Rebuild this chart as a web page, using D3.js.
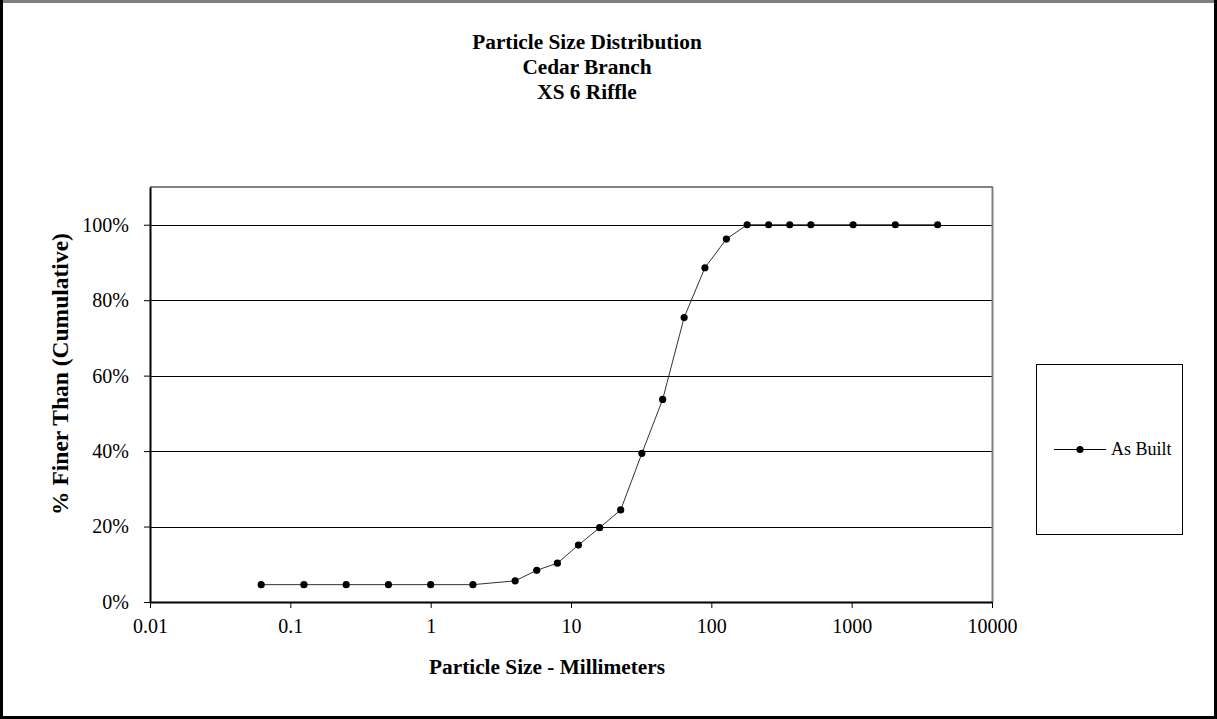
<!DOCTYPE html>
<html>
<head>
<meta charset="utf-8">
<script src="https://cdn.jsdelivr.net/npm/d3@7"></script>
<style>
  body { margin: 0; background: #fff; }
  text { font-family: "Liberation Serif", "Times New Roman", serif; fill: #000; }
</style>
</head>
<body>
<div class="chart"></div>
<script>
// sieve sizes (mm) and cumulative percent finer
let sizes = [0.062, 0.125, 0.25, 0.5, 1, 2, 4, 5.7, 8, 11.3, 16, 22.6, 32, 45, 64, 90, 128, 180, 256, 362, 512, 1024, 2048, 4096];
let pctFiner = [4.6, 4.6, 4.6, 4.6, 4.6, 4.6, 5.6, 8.4, 10.3, 15.1, 19.7, 24.4, 39.4, 53.7, 75.4, 88.6, 96.2, 100, 100, 100, 100, 100, 100, 100];
let xTicks = [0.01, 0.1, 1, 10, 100, 1000, 10000];
let yTicks = [0, 20, 40, 60, 80, 100];
let titleLines = ["Particle Size Distribution", "Cedar Branch", "XS 6 Riffle"];
let seriesName = "As Built";

let W = 1217, H = 719;
let margin = { top: 187, right: 225, bottom: 117, left: 150 };
let width = W - margin.left - margin.right;
let height = H - margin.top - margin.bottom;

let svg = d3.select(".chart")
  .append("svg")
  .attr("width", W)
  .attr("height", H);

// outer frame
svg.append("rect").attr("x", 0).attr("y", 0).attr("width", W).attr("height", H).attr("fill", "#fff");
svg.append("line").attr("x1", 0).attr("x2", W).attr("y1", 1.5).attr("y2", 1.5).attr("stroke", "#808080").attr("stroke-width", 3);
svg.append("line").attr("x1", 1.5).attr("x2", 1.5).attr("y1", 0).attr("y2", H).attr("stroke", "#000").attr("stroke-width", 3);
svg.append("line").attr("x1", W - 1.5).attr("x2", W - 1.5).attr("y1", 0).attr("y2", H).attr("stroke", "#000").attr("stroke-width", 3);
svg.append("line").attr("x1", 0).attr("x2", W).attr("y1", H - 1.5).attr("y2", H - 1.5).attr("stroke", "#000").attr("stroke-width", 3);

let g = svg.append("g")
  .attr("transform", "translate(" + margin.left + "," + margin.top + ")");

let x = d3.scaleLog().domain([0.01, 10000]).range([0, width]);
let y = d3.scaleLinear().domain([0, 110]).range([height, 0]);

// gridlines
g.selectAll(".grid")
  .data(yTicks.filter(d => d > 0))
  .enter()
  .append("line")
  .attr("class", "grid")
  .attr("x1", 0).attr("x2", width)
  .attr("y1", d => Math.round(y(d)) + 0.5)
  .attr("y2", d => Math.round(y(d)) + 0.5)
  .attr("stroke", "#000")
  .attr("stroke-width", 1);

// plot area border (top / right grey)
g.append("line").attr("x1", 0).attr("x2", width + 1).attr("y1", 0).attr("y2", 0).attr("stroke", "#808080").attr("stroke-width", 2);
g.append("line").attr("x1", width + 0.5).attr("x2", width + 0.5).attr("y1", 0).attr("y2", height).attr("stroke", "#808080").attr("stroke-width", 2);

// axes
let xAxis = d3.axisBottom(x)
  .tickValues(xTicks)
  .tickFormat(d => String(d))
  .tickSize(6)
  .tickSizeOuter(0);
let yAxis = d3.axisLeft(y)
  .tickValues(yTicks)
  .tickFormat(d => d + "%")
  .tickSize(6)
  .tickSizeOuter(0);

let gx = g.append("g")
  .attr("transform", "translate(0," + height + ")")
  .call(xAxis);
gx.select(".domain").attr("stroke", "#000").attr("stroke-width", 2);
gx.selectAll(".tick line").attr("stroke", "#000");
gx.selectAll(".tick text")
  .attr("font-size", 20)
  .attr("font-family", "Liberation Serif, Times New Roman, serif")
  .attr("y", 17);

let gy = g.append("g").call(yAxis);
gy.select(".domain").attr("stroke", "#000").attr("stroke-width", 2);
gy.selectAll(".tick line").attr("stroke", "#000");
gy.selectAll(".tick text")
  .attr("font-size", 20)
  .attr("font-family", "Liberation Serif, Times New Roman, serif")
  .attr("x", -21);

// series
let pts = sizes.map((s, i) => ({ size: s, pct: pctFiner[i] }));

let line = d3.line()
  .x(d => x(d.size))
  .y(d => y(d.pct));

g.append("path")
  .datum(pts)
  .attr("d", line)
  .attr("fill", "none")
  .attr("stroke", "#333")
  .attr("stroke-width", 1);

g.selectAll(".dot")
  .data(pts)
  .enter()
  .append("circle")
  .attr("class", "dot")
  .attr("cx", d => x(d.size))
  .attr("cy", d => y(d.pct))
  .attr("r", 3.6)
  .attr("fill", "#000");

// titles
svg.append("text")
  .attr("x", 587)
  .attr("y", 49)
  .attr("text-anchor", "middle")
  .attr("font-size", 21.3)
  .attr("font-weight", "bold")
  .selectAll("tspan")
  .data(titleLines)
  .enter()
  .append("tspan")
  .attr("x", 587)
  .attr("dy", (d, i) => i === 0 ? 0 : 25)
  .text(d => d);

svg.append("text")
  .attr("x", 547)
  .attr("y", 674)
  .attr("text-anchor", "middle")
  .attr("font-size", 21.3)
  .attr("font-weight", "bold")
  .text("Particle Size - Millimeters");

svg.append("text")
  .attr("transform", "translate(68," + 374 + ") rotate(-90)")
  .attr("text-anchor", "middle")
  .attr("font-size", 23.5)
  .attr("font-weight", "bold")
  .text("% Finer Than (Cumulative)");

// legend
let lg = svg.append("g").attr("transform", "translate(1036,364)");
lg.append("rect")
  .attr("x", 0.5).attr("y", 0.5)
  .attr("width", 146).attr("height", 170)
  .attr("fill", "#fff")
  .attr("stroke", "#000")
  .attr("stroke-width", 1);
lg.append("line")
  .attr("x1", 18).attr("x2", 70)
  .attr("y1", 85.5).attr("y2", 85.5)
  .attr("stroke", "#000").attr("stroke-width", 1);
lg.append("circle").attr("cx", 44).attr("cy", 85.5).attr("r", 3.6).attr("fill", "#000");
lg.append("text")
  .attr("x", 75)
  .attr("y", 91)
  .attr("font-size", 18)
  .text(seriesName);
</script>
</body>
</html>
